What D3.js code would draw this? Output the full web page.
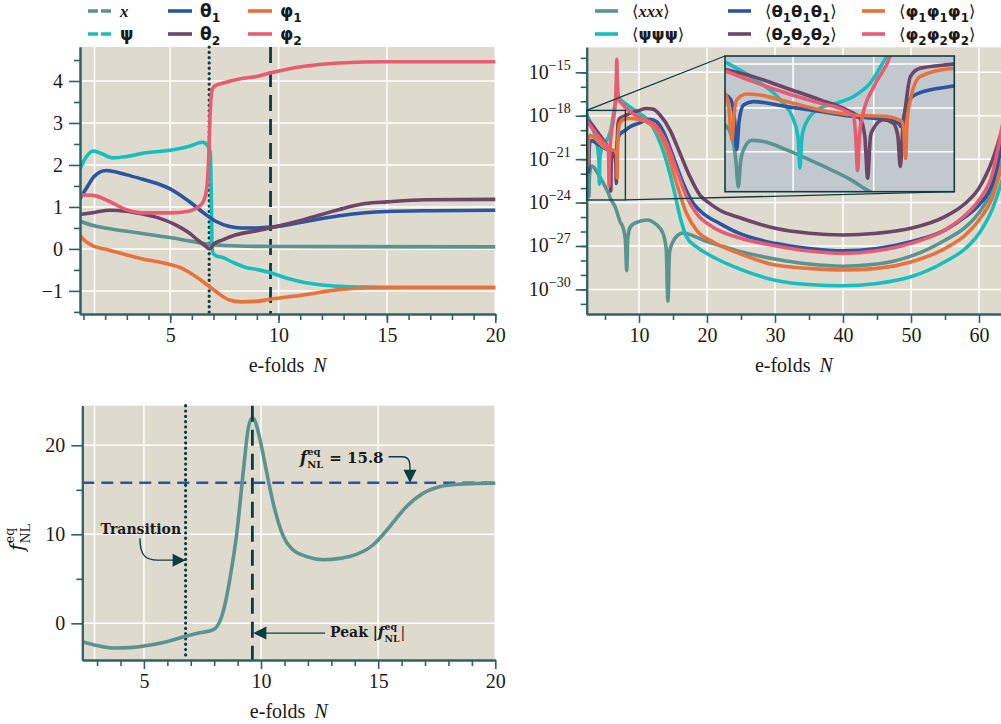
<!DOCTYPE html>
<html><head><meta charset="utf-8">
<script src="https://cdn.jsdelivr.net/npm/d3@7"></script>
<style>
body{margin:0;background:#fff;}
svg{display:block;}
</style></head><body>
<svg id="c" width="1001" height="724"></svg>
<script>
// ---------------- DATA ----------------
// Top-left: field trajectories vs e-folds N  [N, value]
const fieldX   = [[0.84,0.66],[1.5,0.55],[3,0.42],[5,0.27],[6,0.18],[6.7,0.12],[7.5,0.08],[9,0.06],[12,0.055],[20,0.05]];
const fieldPsi = [[0.84,1.9],[1.1,2.17],[1.45,2.33],[1.8,2.28],[2.35,2.17],[3,2.2],[3.75,2.28],[5,2.35],[5.85,2.44],[6.5,2.54],[6.72,2.46],[6.85,2.3],[6.9,1.2],[6.93,0.1],[6.98,-0.1],[7.1,-0.16],[7.4,-0.2],[7.9,-0.32],[8.5,-0.44],[9,-0.49],[9.6,-0.56],[10.4,-0.7],[11.2,-0.8],[12,-0.86],[12.8,-0.89],[14,-0.91],[16,-0.92],[20,-0.92]];
const fieldTh1 = [[0.84,1.2],[1.2,1.5],[1.5,1.73],[2.05,1.87],[2.96,1.77],[3.73,1.66],[4.4,1.56],[5,1.43],[5.85,1.14],[6.54,0.86],[7.1,0.66],[7.7,0.54],[8.3,0.5],[9,0.5],[9.7,0.52],[11.2,0.65],[12.8,0.79],[14,0.86],[15,0.89],[17,0.91],[20,0.92]];
const fieldTh2 = [[0.84,0.82],[1.5,0.87],[2.2,0.92],[2.96,0.9],[3.73,0.83],[4.46,0.74],[5.23,0.58],[5.85,0.39],[6.3,0.2],[6.6,0.08],[6.83,0.0],[7.0,0.11],[7.4,0.21],[8,0.33],[8.95,0.43],[9.7,0.51],[11.2,0.7],[12.8,0.94],[14,1.08],[15,1.12],[16.8,1.17],[20,1.18]];
const fieldPh1 = [[0.84,0.32],[1.1,0.18],[1.5,0.06],[2.2,-0.03],[2.96,-0.14],[3.73,-0.24],[5,-0.37],[5.5,-0.45],[5.85,-0.55],[6.49,-0.77],[7.1,-1.01],[7.7,-1.21],[8.3,-1.26],[8.95,-1.25],[9.6,-1.2],[11.2,-1.09],[12.8,-0.97],[14,-0.93],[16,-0.92],[20,-0.92]];
const fieldPh2 = [[0.84,1.29],[1.5,1.27],[2.2,1.13],[2.96,0.94],[3.73,0.86],[5,0.86],[5.85,0.9],[6.3,1.0],[6.55,1.15],[6.7,1.5],[6.78,2.2],[6.85,3.3],[6.92,3.75],[7.05,3.88],[7.5,3.96],[8.2,4.05],[9.1,4.12],[9.6,4.19],[10.4,4.28],[11.2,4.35],[12.8,4.43],[15,4.46],[20,4.46]];
const tlTransitionN = 6.8, peakN = 9.63;

// Top-right: three-point correlators  [N, log10 |value|]
const corrXXX = [[2.31,-20.77],[2.48,-21.3],[2.58,-22.4],[2.64,-23.6],[2.7,-22.4],[2.77,-21.91],[2.97,-21.48],[3.26,-21.53],[3.84,-21.91],[4.67,-22.59],[5.5,-23.35],[5.79,-23.7],[6.5,-24.3],[7.2,-25.3],[7.7,-25.8],[8.0,-26.6],[8.19,-28.7],[8.35,-26.5],[8.7,-25.7],[9.5,-25.4],[11.2,-25.2],[12.5,-25.5],[13.5,-26.1],[14.0,-27.2],[14.25,-30.8],[14.5,-27.4],[14.8,-26.9],[15.5,-26.35],[16.5,-26.1],[18,-26.3],[20,-26.7],[22.5,-27.05],[25,-27.4],[30,-27.9],[35,-28.25],[40,-28.4],[45,-28.25],[50,-27.7],[55,-26.6],[58,-25.7],[60,-24.7],[62,-23.1],[63.5,-21.0]];
const corrPsi = [[2.31,-17.9],[3.01,-18.65],[3.68,-19.63],[4.01,-20.54],[4.12,-21.3],[4.17,-22.74],[4.22,-21.3],[4.34,-20.62],[4.67,-20.01],[5.08,-19.78],[5.5,-19.48],[5.91,-18.87],[6.33,-17.63],[6.6,-16.9],[6.78,-16.4],[6.95,-16.7],[7.45,-16.95],[8.68,-17.4],[9.9,-17.8],[11.1,-18.18],[12.6,-19.3],[14.07,-21.2],[15.05,-22.95],[16.1,-25.1],[17.0,-26.38],[18.48,-27.07],[20.9,-27.76],[24.85,-28.6],[30,-29.36],[35,-29.66],[40,-29.75],[45,-29.59],[50,-29.13],[55,-28.09],[58,-27.17],[60,-26.13],[62,-24.4],[63.5,-22.3]];
const corrTh1 = [[2.31,-19.4],[2.45,-19.6],[2.55,-20.6],[2.6,-21.9],[2.66,-20.6],[2.77,-19.86],[3.01,-19.71],[3.84,-19.94],[4.67,-20.16],[5.5,-20.39],[6.33,-20.54],[6.62,-20.7],[6.68,-20.85],[6.75,-20.4],[6.82,-19.78],[7.15,-19.3],[7.98,-19.0],[8.68,-18.76],[9.9,-18.53],[11.6,-18.25],[12.6,-18.42],[13.58,-19.1],[15.05,-20.84],[16.5,-22.68],[18.0,-24.07],[19.46,-24.76],[21.9,-25.45],[24.85,-26.15],[30,-26.82],[35,-27.17],[40,-27.33],[45,-27.17],[50,-26.71],[55,-25.9],[58,-24.97],[60,-24.16],[62,-22.66],[63.5,-19.8]];
const corrTh2 = [[2.31,-18.25],[3.01,-18.57],[3.84,-19.1],[4.67,-19.63],[5.33,-20.09],[5.66,-20.47],[5.78,-21.3],[5.85,-23.2],[5.92,-21.3],[6.0,-20.92],[6.24,-20.54],[6.49,-20.7],[6.6,-21.3],[6.66,-22.67],[6.72,-21.0],[6.78,-20.09],[6.91,-18.57],[7.15,-18.19],[7.98,-18.0],[8.68,-17.84],[9.9,-17.65],[11.1,-17.5],[12.1,-17.55],[13.09,-17.95],[14.56,-18.99],[16.03,-20.6],[17.5,-22.22],[18.97,-23.49],[20.44,-24.07],[21.9,-24.53],[24.85,-25.05],[30,-25.78],[35,-26.12],[40,-26.24],[45,-26.12],[50,-25.78],[55,-24.97],[58,-24.05],[60,-23.0],[62,-21.04],[63.5,-18.8]];
const corrPh1 = [[2.31,-19.33],[2.4,-19.9],[2.48,-21.45],[2.54,-20.2],[2.6,-19.63],[2.85,-19.36],[3.18,-19.41],[3.84,-19.71],[4.67,-20.09],[5.5,-20.32],[6.33,-20.39],[6.7,-20.62],[6.75,-21.1],[6.79,-22.3],[6.83,-20.6],[6.91,-19.63],[7.15,-18.57],[7.98,-18.2],[8.68,-18.18],[9.9,-18.25],[11.1,-18.42],[12.6,-18.99],[14.07,-20.38],[15.54,-22.68],[17.0,-24.76],[18.48,-25.92],[20.9,-26.72],[24.85,-27.53],[30,-28.32],[35,-28.55],[40,-28.66],[45,-28.55],[50,-28.1],[55,-27.17],[58,-26.24],[60,-25.2],[62,-23.6],[63.5,-21.2]];
const corrPh2 = [[2.31,-18.3],[3.01,-18.8],[3.84,-19.33],[4.67,-19.78],[5.33,-20.16],[5.5,-20.39],[5.55,-21.2],[5.6,-22.85],[5.65,-21.2],[5.72,-20.39],[6.0,-19.03],[6.41,-17.63],[6.6,-16.4],[6.68,-15.2],[6.74,-14.1],[6.8,-15.3],[6.9,-16.4],[7.0,-16.85],[7.45,-17.15],[8.68,-17.72],[9.9,-18.07],[11.1,-18.3],[12.6,-18.76],[14.07,-19.92],[15.54,-21.76],[17.0,-23.6],[18.48,-24.76],[20.9,-25.7],[24.85,-26.45],[30,-26.98],[35,-27.35],[40,-27.51],[45,-27.33],[50,-26.82],[55,-25.9],[58,-24.86],[60,-23.82],[62,-21.97],[63.5,-18.5]];
const insetN = [2.31, 8.0];          // zoom window in N
const insetLog = [-23.82, -17.63];    // zoom window in log10

// Bottom: f_NL^eq vs N
const fnlCurve = [[2.37,-2.07],[3.0,-2.5],[3.69,-2.78],[4.54,-2.7],[5,-2.55],[5.97,-2.07],[6.78,-1.45],[7.39,-1.06],[7.96,-0.7],[8.12,-0.35],[8.3,0.6],[8.5,2.6],[8.67,5.0],[8.96,10.0],[9.24,17.0],[9.46,22.0],[9.63,23.1],[9.8,22.3],[9.96,20.6],[10.25,16.85],[10.53,13.4],[10.96,9.73],[11.3,8.4],[11.95,7.5],[12.66,7.15],[13.37,7.3],[13.78,7.5],[14.78,8.8],[15.49,10.85],[16.2,13.1],[16.91,14.6],[17.62,15.35],[18.33,15.6],[19,15.7],[20,15.73]];
const fnlFinal = 15.8, bTransitionN = 6.78;

// tick values
const tlXMajor = [5,10,15,20], tlXMinor = d3.range(1,21);
const tlYMajor = [-1,0,1,2,3,4], tlYMinor = [-1.5,-0.5,0.5,1.5,2.5,3.5,4.5];
const trXMajor = [10,20,30,40,50,60], trXMinor = [5,15,25,35,45,55];
const trYMajorExp = [-30,-27,-24,-21,-18,-15], trYMinorExp = d3.range(-31,-13);
const bXMajor = [5,10,15,20], bXMinor = [3,4,6,7,8,9,11,12,13,14,16,17,18,19];
const bYMajor = [0,10,20], bYMinor = [5,15];
const tlExtraGrid = [1.51], bExtraGrid = [2.89];

// ---------------- STYLE ----------------
const BG="#dedace", AX="#2f6266", DARK="#0d3d40", INSET="#c1c9cf";
const COL = {x:"#5b9390", psi:"#18bebd", th1:"#2b55a0", th2:"#6c4567", ph1:"#e8723c", ph2:"#e85c71"};
const SERIF = "Liberation Serif, serif";
const TICK = 20;
const svg = d3.select("#c");

function styleAxis(g){
  g.attr("font-family",SERIF).attr("font-size",TICK);
  g.select(".domain").attr("stroke",AX).attr("stroke-width",2);
  g.selectAll(".tick line").attr("stroke",AX).attr("stroke-width",1.6);
  g.selectAll(".tick text").attr("fill","#1a1a1a");
}
function axesFor(g, x, y, xMaj, xMin, yMaj, yMin, yFmt, bottomY, leftX){
  const ax1 = g.append("g").attr("transform",`translate(0,${bottomY})`)
     .call(d3.axisBottom(x).tickValues(xMin).tickSize(6).tickSizeOuter(0).tickFormat(""));
  styleAxis(ax1);
  const ax2 = g.append("g").attr("transform",`translate(0,${bottomY})`)
     .call(d3.axisBottom(x).tickValues(xMaj).tickSize(9).tickSizeOuter(0).tickPadding(5).tickFormat(d3.format("d")));
  styleAxis(ax2);
  const ay1 = g.append("g").attr("transform",`translate(${leftX},0)`)
     .call(d3.axisLeft(y).tickValues(yMin).tickSize(6).tickSizeOuter(0).tickFormat(""));
  styleAxis(ay1);
  const ay2 = g.append("g").attr("transform",`translate(${leftX},0)`)
     .call(d3.axisLeft(y).tickValues(yMaj).tickSize(11).tickSizeOuter(0).tickPadding(6).tickFormat(yFmt));
  styleAxis(ay2);
  return ay2;
}
function xLabel(g, cx, y){
  const t = g.append("text").attr("x",cx).attr("y",y).attr("text-anchor","middle")
    .attr("font-family",SERIF).attr("font-size",20).attr("fill","#1a1a1a");
  t.append("tspan").text("e-folds ");
  t.append("tspan").attr("dx",4).attr("font-style","italic").text("N");
}
function rich(t, segs, base){
  let cur = 0;
  segs.forEach(s=>{
    const target = s.sub ? base*0.3 : (s.sup ? -base*0.45 : 0);
    const sp = t.append("tspan").text(s.t).attr("dy", target-cur);
    cur = target;
    if(s.font) sp.attr("font-family", s.font);
    if(s.style) sp.attr("font-style", s.style);
    if(s.weight) sp.attr("font-weight", s.weight);
    sp.attr("font-size", (s.sub||s.sup) ? base*0.72 : base);
  });
}
const GK = "DejaVu Sans";
function greek(letter, idx){ const a=[{t:letter,font:GK,weight:"bold"}]; if(idx) a.push({t:idx,sub:true,font:GK,weight:"bold"}); return a; }

// ================= TOP LEFT =================
(function(){
  const x = d3.scaleLinear().domain([0.84,20]).range([80,495.3]);
  const y = d3.scaleLinear().domain([-1.55,4.81]).range([314,47]);
  const g = svg.append("g");
  g.append("rect").attr("x",80).attr("y",47).attr("width",x(20)-80).attr("height",314-47).attr("fill",BG);
  g.append("clipPath").attr("id","clipTL").append("rect").attr("x",80).attr("y",47).attr("width",x(20)-80).attr("height",267);
  const grid = g.append("g").attr("stroke","#fff").attr("stroke-width",1.5);
  grid.selectAll("line.h").data(tlYMajor).join("line").attr("x1",80).attr("x2",x(20)).attr("y1",d=>y(d)).attr("y2",d=>y(d));
  grid.selectAll("line.v").data(tlXMajor.concat(tlExtraGrid)).join("line").attr("x1",d=>x(d)).attr("x2",d=>x(d)).attr("y1",47).attr("y2",314);
  g.append("line").attr("x1",x(tlTransitionN)).attr("x2",x(tlTransitionN)).attr("y1",47).attr("y2",314)
    .attr("stroke",DARK).attr("stroke-width",3.2).attr("stroke-linecap","round").attr("stroke-dasharray","0.1 5.2");
  g.append("line").attr("x1",x(peakN)).attr("x2",x(peakN)).attr("y1",47).attr("y2",314)
    .attr("stroke",DARK).attr("stroke-width",2.8).attr("stroke-dasharray","16 8");
  const line = d3.line().x(d=>x(d[0])).y(d=>y(d[1])).curve(d3.curveMonotoneX);
  const series = [[fieldX,COL.x],[fieldPsi,COL.psi],[fieldTh1,COL.th1],[fieldTh2,COL.th2],[fieldPh1,COL.ph1],[fieldPh2,COL.ph2]];
  g.append("g").attr("clip-path","url(#clipTL)").selectAll("path").data(series).join("path")
    .attr("d",d=>line(d[0])).attr("fill","none").attr("stroke",d=>d[1]).attr("stroke-width",3.6)
    .attr("stroke-linejoin","round").attr("stroke-linecap","round");
  axesFor(g, x, y, tlXMajor, tlXMinor, tlYMajor, tlYMinor, d3.format("d"), 314, 80);
  xLabel(g, (80+x(20))/2, 372);
  const items = [
    {segs:[{t:"x",font:SERIF,style:"italic",weight:"bold"}], c:COL.x, dash:"10 3"},
    {segs:greek("ψ"), c:COL.psi, dash:"10 3"},
    {segs:greek("θ","1"), c:COL.th1},
    {segs:greek("θ","2"), c:COL.th2},
    {segs:greek("φ","1"), c:COL.ph1},
    {segs:greek("φ","2"), c:COL.ph2}];
  const lx = [88,168,248], ly=[11,34];
  items.forEach((it,i)=>{
    const cx = lx[Math.floor(i/2)], cy = ly[i%2];
    g.append("line").attr("x1",cx).attr("x2",cx+24).attr("y1",cy).attr("y2",cy).attr("stroke",it.c).attr("stroke-width",3.6)
      .attr("stroke-dasharray",it.dash||null);
    const t = g.append("text").attr("x",cx+32).attr("y",cy+6).attr("font-size",17).attr("fill","#1a1a1a");
    rich(t, it.segs, 17);
  });
})();

// ================= TOP RIGHT =================
(function(){
  const L = 586.7, T = 47.3, B = 314;
  const x = d3.scaleLinear().domain([2.31,63.5]).range([L,1002.8]);
  const y = d3.scaleLog().domain([Math.pow(10,-31.7),Math.pow(10,-13.27)]).range([B,T]);
  const g = svg.append("g");
  g.append("rect").attr("x",L).attr("y",T).attr("width",1001-L).attr("height",B-T).attr("fill",BG);
  g.append("clipPath").attr("id","clipTR").append("rect").attr("x",L).attr("y",T).attr("width",1001-L).attr("height",B-T);
  const grid = g.append("g").attr("stroke","#fff").attr("stroke-width",1.5);
  grid.selectAll("line.h").data(trYMajorExp).join("line").attr("x1",L).attr("x2",1001).attr("y1",d=>y(Math.pow(10,d))).attr("y2",d=>y(Math.pow(10,d)));
  grid.selectAll("line.v").data(trXMajor).join("line").attr("x1",d=>x(d)).attr("x2",d=>x(d)).attr("y1",T).attr("y2",B);
  const line = d3.line().x(d=>x(d[0])).y(d=>y(Math.pow(10,d[1]))).curve(d3.curveMonotoneX);
  const series = [[corrXXX,COL.x],[corrPsi,COL.psi],[corrTh1,COL.th1],[corrTh2,COL.th2],[corrPh1,COL.ph1],[corrPh2,COL.ph2]];
  g.append("g").attr("clip-path","url(#clipTR)").selectAll("path").data(series).join("path")
    .attr("d",d=>line(d[0])).attr("fill","none").attr("stroke",d=>d[1]).attr("stroke-width",3.6).attr("stroke-linejoin","round");
  const ax1 = g.append("g").attr("transform",`translate(0,${B})`).call(d3.axisBottom(x).tickValues(trXMinor).tickSize(6).tickSizeOuter(0).tickFormat(""));
  styleAxis(ax1);
  const ax2 = g.append("g").attr("transform",`translate(0,${B})`).call(d3.axisBottom(x).tickValues(trXMajor).tickSize(9).tickSizeOuter(0).tickPadding(5).tickFormat(d3.format("d")));
  styleAxis(ax2);
  const ay1 = g.append("g").attr("transform",`translate(${L},0)`).call(d3.axisLeft(y).tickValues(trYMinorExp.map(e=>Math.pow(10,e))).tickSize(6).tickSizeOuter(0).tickFormat(""));
  styleAxis(ay1);
  const ay2 = g.append("g").attr("transform",`translate(${L},0)`).call(d3.axisLeft(y).tickValues(trYMajorExp.map(e=>Math.pow(10,e))).tickSize(11).tickSizeOuter(0).tickFormat(""));
  styleAxis(ay2);
  ay2.selectAll(".tick").each(function(d){
    const e = Math.round(Math.log10(d));
    const t = d3.select(this).append("text").attr("x",-16).attr("dy","0.3em").attr("text-anchor","end").attr("fill","#1a1a1a")
      .attr("font-family",SERIF);
    t.append("tspan").attr("font-size",TICK).text("10");
    t.append("tspan").attr("font-size",14).attr("dy",-9).text("\u2212"+Math.abs(e));
  });
  xLabel(g, (L+1001)/2, 372);

  const r0 = {x1:x(insetN[0]), x2:x(insetN[1]), y1:y(Math.pow(10,insetLog[1])), y2:y(Math.pow(10,insetLog[0]))};
  const I = {x1:725, x2:954.3, y1:56, y2:191.7};
  g.append("rect").attr("x",r0.x1).attr("y",r0.y1).attr("width",r0.x2-r0.x1).attr("height",r0.y2-r0.y1)
    .attr("fill","none").attr("stroke",DARK).attr("stroke-width",1.4);
  g.append("line").attr("x1",r0.x1).attr("y1",r0.y1).attr("x2",I.x1).attr("y2",I.y1).attr("stroke",DARK).attr("stroke-width",1.3);
  g.append("line").attr("x1",r0.x2).attr("y1",r0.y2).attr("x2",I.x2).attr("y2",I.y2).attr("stroke",DARK).attr("stroke-width",1.3);
  const xi = d3.scaleLinear().domain(insetN).range([I.x1,I.x2]);
  const yi = d3.scaleLog().domain(insetLog.map(v=>Math.pow(10,v))).range([I.y2,I.y1]);
  const gi = g.append("g");
  gi.append("rect").attr("x",I.x1).attr("y",I.y1).attr("width",I.x2-I.x1).attr("height",I.y2-I.y1).attr("fill",INSET);
  gi.append("clipPath").attr("id","clipIn").append("rect").attr("x",I.x1).attr("y",I.y1).attr("width",I.x2-I.x1).attr("height",I.y2-I.y1);
  const gg = gi.append("g").attr("stroke","#fff").attr("stroke-width",1.5);
  gg.selectAll("line.h").data([-18,-20,-22]).join("line").attr("x1",I.x1).attr("x2",I.x2).attr("y1",d=>yi(Math.pow(10,d))).attr("y2",d=>yi(Math.pow(10,d)));
  gg.selectAll("line.v").data([4,6]).join("line").attr("x1",d=>xi(d)).attr("x2",d=>xi(d)).attr("y1",I.y1).attr("y2",I.y2);
  const li = d3.line().x(d=>xi(d[0])).y(d=>yi(Math.pow(10,d[1]))).curve(d3.curveMonotoneX);
  gi.append("g").attr("clip-path","url(#clipIn)").selectAll("path").data(series).join("path")
    .attr("d",d=>li(d[0])).attr("fill","none").attr("stroke",d=>d[1]).attr("stroke-width",3.6).attr("stroke-linejoin","round");
  gi.append("rect").attr("x",I.x1).attr("y",I.y1).attr("width",I.x2-I.x1).attr("height",I.y2-I.y1)
    .attr("fill","none").attr("stroke",DARK).attr("stroke-width",1.6);

  const BR = "DejaVu Serif";
  function corrLabel(letter, idx){
    let a=[{t:"\u27E8",font:BR}];
    for(let k=0;k<3;k++) a = a.concat(greek(letter,idx));
    a.push({t:"\u27E9",font:BR}); return a;
  }
  const xxx = [{t:"\u27E8",font:BR},{t:"xxx",font:SERIF,style:"italic",weight:"bold"},{t:"\u27E9",font:BR}];
  const items = [
    {segs:xxx,c:COL.x},{segs:corrLabel("ψ"),c:COL.psi},
    {segs:corrLabel("θ","1"),c:COL.th1},{segs:corrLabel("θ","2"),c:COL.th2},
    {segs:corrLabel("φ","1"),c:COL.ph1},{segs:corrLabel("φ","2"),c:COL.ph2}];
  const lx=[595,728,862], ly=[11,34];
  items.forEach((it,i)=>{
    const cx=lx[Math.floor(i/2)], cy=ly[i%2];
    g.append("line").attr("x1",cx).attr("x2",cx+23).attr("y1",cy).attr("y2",cy).attr("stroke",it.c).attr("stroke-width",3.6);
    const t=g.append("text").attr("x",cx+37).attr("y",cy+6).attr("font-size",16.5).attr("fill","#1a1a1a");
    rich(t,it.segs,16.5);
  });
})();

// ================= BOTTOM =================
(function(){
  const L=82.3, T=405.7, B=660;
  const x = d3.scaleLinear().domain([2.37,20]).range([L,495.3]);
  const y = d3.scaleLinear().domain([-4.12,24.45]).range([B,T]);
  const g = svg.append("g");
  g.append("rect").attr("x",L).attr("y",T).attr("width",x(20)-L).attr("height",B-T).attr("fill",BG);
  const grid = g.append("g").attr("stroke","#fff").attr("stroke-width",1.5);
  grid.selectAll("line.h").data(bYMajor).join("line").attr("x1",L).attr("x2",x(20)).attr("y1",d=>y(d)).attr("y2",d=>y(d));
  grid.selectAll("line.v").data(bXMajor.concat(bExtraGrid)).join("line").attr("x1",d=>x(d)).attr("x2",d=>x(d)).attr("y1",T).attr("y2",B);
  g.append("line").attr("x1",L).attr("x2",x(20)).attr("y1",y(fnlFinal)).attr("y2",y(fnlFinal))
    .attr("stroke",COL.th1).attr("stroke-width",2.6).attr("stroke-dasharray","12 7");
  g.append("line").attr("x1",x(bTransitionN)).attr("x2",x(bTransitionN)).attr("y1",T).attr("y2",B)
    .attr("stroke",DARK).attr("stroke-width",3.2).attr("stroke-linecap","round").attr("stroke-dasharray","0.1 5.2");
  const line = d3.line().x(d=>x(d[0])).y(d=>y(d[1])).curve(d3.curveMonotoneX);
  g.append("path").attr("d",line(fnlCurve)).attr("fill","none").attr("stroke",COL.x).attr("stroke-width",3.6).attr("stroke-linejoin","round");
  g.append("line").attr("x1",x(peakN)).attr("x2",x(peakN)).attr("y1",T).attr("y2",B)
    .attr("stroke",DARK).attr("stroke-width",2.8).attr("stroke-dasharray","16 8");
  axesFor(g, x, y, bXMajor, bXMinor, bYMajor, bYMinor, d3.format("d"), B, L);
  xLabel(g, (L+x(20))/2, 718);

  const AF = "DejaVu Serif", AS = 14;
  function fnlText(parent, x0, y0, size, weight){
    const f = parent.append("text").attr("x",x0).attr("y",y0).attr("font-family",AF).attr("font-style","italic")
      .attr("font-weight",weight).attr("font-size",size).attr("fill","#1a1a1a").text("f");
    const sx = x0 + f.node().getComputedTextLength() + size*0.02;
    const e = parent.append("text").attr("x",sx).attr("y",y0-size*0.48).attr("font-family",AF).attr("font-weight",weight)
      .attr("font-size",size*0.62).attr("fill","#1a1a1a").text("eq");
    const n = parent.append("text").attr("x",sx).attr("y",y0+size*0.32).attr("font-family",AF).attr("font-weight",weight)
      .attr("font-size",size*0.62).attr("fill","#1a1a1a").text("NL");
    return sx + Math.max(e.node().getComputedTextLength(), n.node().getComputedTextLength());
  }
  const tip1 = [bTransitionN, 7.1];
  g.append("text").attr("x",x(4.87)).attr("y",y(10.0)).attr("text-anchor","middle").attr("font-family",AF)
    .attr("font-weight","bold").attr("font-size",AS).attr("fill","#1a1a1a").text("Transition");
  const tx = x(tip1[0]), ty = y(tip1[1]), sx0 = x(4.83);
  g.append("path").attr("d",`M${sx0},${ty-22} C${sx0},${ty-4} ${sx0+6},${ty} ${sx0+18},${ty} L${tx-12},${ty}`)
    .attr("fill","none").attr("stroke",DARK).attr("stroke-width",1.4);
  g.append("path").attr("d",`M${tx},${ty} L${tx-13},${ty-6.5} L${tx-13},${ty+6.5} Z`).attr("fill",DARK);
  const tip2x = x(16.36), tip2y = y(fnlFinal);
  const endX = fnlText(g, 300, 463, 16, "bold");
  const eqT = g.append("text").attr("x",endX+6).attr("y",463).attr("font-family",AF).attr("font-weight","bold")
    .attr("font-size",15).attr("fill","#1a1a1a").text("= 15.8");
  const aStart = endX+6+eqT.node().getComputedTextLength()+5;
  g.append("path").attr("d",`M${aStart},${tip2y-26} L${tip2x-8},${tip2y-26} C${tip2x},${tip2y-26} ${tip2x},${tip2y-20} ${tip2x},${tip2y-12}`)
    .attr("fill","none").attr("stroke",DARK).attr("stroke-width",1.4);
  g.append("path").attr("d",`M${tip2x},${tip2y} L${tip2x-6.5},${tip2y-13} L${tip2x+6.5},${tip2y-13} Z`).attr("fill",DARK);
  const tip3x = x(peakN)+1, tip3y = y(-1.1);
  const pk = g.append("text").attr("x",330).attr("y",637).attr("font-family",AF).attr("font-weight","bold")
    .attr("font-size",AS).attr("fill","#1a1a1a").text("Peak |");
  const pe = fnlText(g, 330+pk.node().getComputedTextLength(), 637, 15, "bold");
  g.append("text").attr("x",pe+1).attr("y",637).attr("font-family",AF).attr("font-size",AS).attr("fill","#1a1a1a").text("|");
  g.append("line").attr("x1",325).attr("x2",tip3x+12).attr("y1",tip3y).attr("y2",tip3y).attr("stroke",DARK).attr("stroke-width",1.4);
  g.append("path").attr("d",`M${tip3x},${tip3y} L${tip3x+13},${tip3y-6.5} L${tip3x+13},${tip3y+6.5} Z`).attr("fill",DARK);
  const yl = g.append("g").attr("transform","translate(24,537) rotate(-90)");
  fnlText(yl, -14, 0, 20, "normal");
})();
</script>
</body></html>
